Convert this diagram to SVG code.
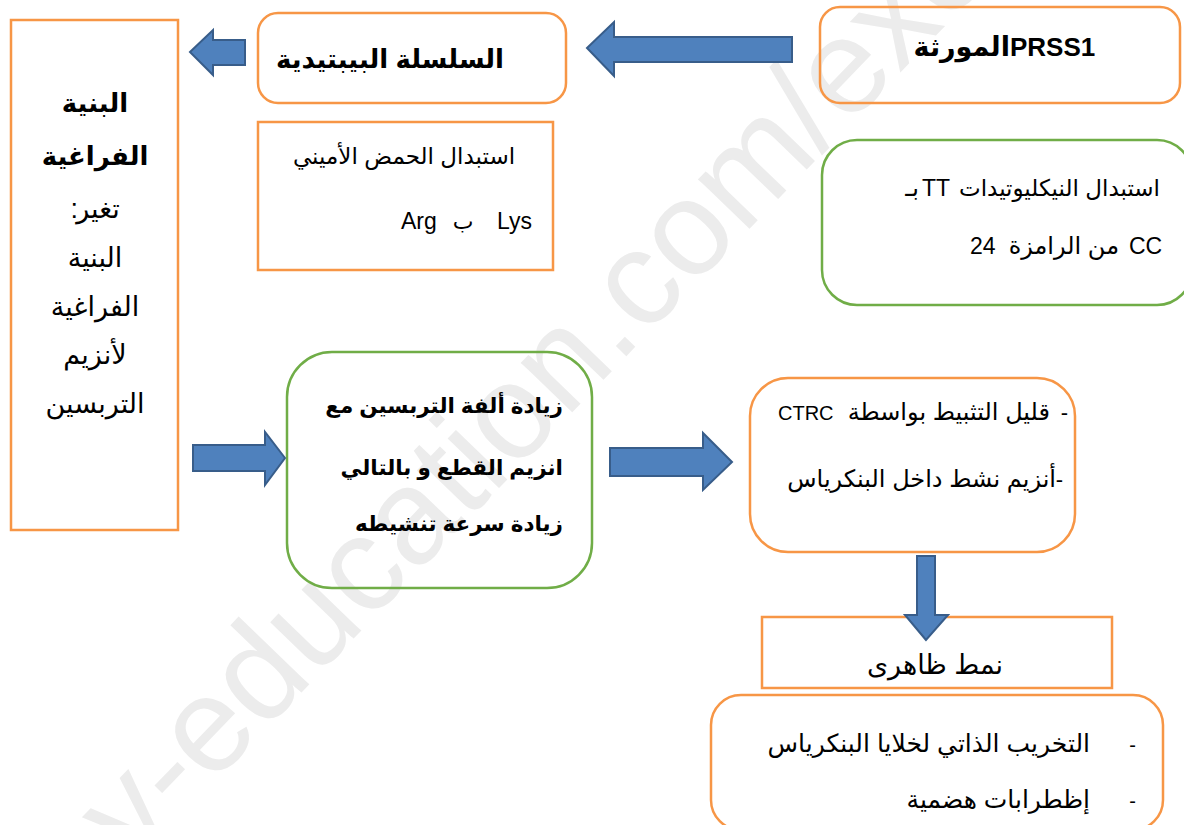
<svg xmlns="http://www.w3.org/2000/svg" width="1184" height="825" viewBox="0 0 1184 825">
<style>
.o{fill:none;stroke:#f79646;stroke-width:2.5}
.g{fill:none;stroke:#70ad47;stroke-width:2.5}
.ar{fill:#4f81bd;stroke:#385d8a;stroke-width:2;stroke-linejoin:miter}
text{font-family:"Liberation Sans","DejaVu Sans",sans-serif;fill:#000}
.b{font-weight:bold}
.wm{font-family:"Liberation Sans",Arial,sans-serif;fill:#ececec;font-size:135px}
</style>
<rect width="1184" height="825" fill="#fff"/>
<text class="wm" transform="translate(133,867) rotate(-46)">y-education.com/exe</text>

<g id="structure">
<rect class="o" x="11" y="20" width="167" height="510"/>
<text class="b" x="95" y="112" font-size="26" text-anchor="middle">البنية</text>
<text class="b" x="95" y="165" font-size="26" text-anchor="middle">الفراغية</text>
<text x="98" y="218" font-size="27" text-anchor="middle">تغير</text>
<text x="78" y="218" font-size="27" text-anchor="end">:</text>
<text x="95" y="267" font-size="27" text-anchor="middle">البنية</text>
<text x="95" y="316" font-size="27" text-anchor="middle">الفراغية</text>
<text x="95" y="364" font-size="27" text-anchor="middle">لأنزيم</text>
<text x="95" y="413" font-size="27" text-anchor="middle">التربسين</text>
</g>

<g id="peptide">
<rect class="o" x="258" y="13" width="308" height="90" rx="20"/>
<text class="b" x="390" y="68" font-size="26" text-anchor="middle">السلسلة البيبتيدية</text>
</g>

<g id="gene">
<rect class="o" x="820" y="7" width="360" height="96" rx="20"/>
<text class="b" x="1010" y="56" font-size="27" text-anchor="end">المورثة</text>
<text class="b" x="1010" y="56" font-size="26">PRSS1</text>
</g>

<g id="aa-sub">
<rect class="o" x="258" y="122" width="295" height="148"/>
<text x="404" y="164" font-size="23" text-anchor="middle">استبدال الحمض الأميني</text>
<text x="401" y="229" font-size="23">Arg</text>
<text x="463" y="229" font-size="22" text-anchor="middle">ب</text>
<text x="497" y="229" font-size="23">Lys</text>
</g>

<g id="nt-sub">
<rect class="g" x="822" y="140" width="370" height="165" rx="35"/>
<text x="1160" y="196" font-size="23" text-anchor="end">استبدال النيكليوتيدات</text>
<text x="922" y="196" font-size="23">TT</text>
<text x="919" y="196" font-size="24" text-anchor="end">بـ</text>
<text x="1129" y="254" font-size="23">CC</text>
<text x="1119" y="254" font-size="24" text-anchor="end">من الرامزة</text>
<text x="970" y="254" font-size="23">24</text>
</g>

<g id="affinity">
<rect class="g" x="287" y="352" width="305" height="236" rx="45"/>
<text class="b" x="563" y="413" font-size="21.5" text-anchor="end">زيادة ألفة التربسين مع</text>
<text class="b" x="563" y="475" font-size="21.5" text-anchor="end">انزيم القطع و بالتالي</text>
<text class="b" x="563" y="531" font-size="21.5" text-anchor="end">زيادة سرعة تنشيطه</text>
</g>

<g id="ctrc">
<rect class="o" x="750" y="378" width="325" height="174" rx="38"/>
<text x="1068" y="420" font-size="22" text-anchor="end">-</text>
<text x="1050" y="420" font-size="24" text-anchor="end">قليل التثبيط بواسطة</text>
<text x="778" y="420" font-size="20">CTRC</text>
<text x="1063" y="487" font-size="22" text-anchor="end">-</text>
<text x="1056" y="487" font-size="24" text-anchor="end">أنزيم نشط داخل البنكرياس</text>
</g>

<g id="phenotype">
<rect class="o" x="762" y="617" width="350" height="71"/>
<text x="935" y="674" font-size="27" text-anchor="middle">نمط ظاهرى</text>
</g>

<g id="effects">
<rect class="o" x="711" y="695" width="452" height="135" rx="30"/>
<text x="1136" y="752" font-size="20" text-anchor="end">-</text>
<text x="1090" y="752" font-size="25" text-anchor="end">التخريب الذاتي لخلايا البنكرياس</text>
<text x="1136" y="808" font-size="20" text-anchor="end">-</text>
<text x="1090" y="808" font-size="25" text-anchor="end">إظطرابات هضمية</text>
</g>

<g id="connectors">
<polygon class="ar" points="190,52 213,30 213,40 245,40 245,65 213,65 213,75"/>
<polygon class="ar" points="587,48 614,22 614,37 792,37 792,62 614,62 614,76"/>
<polygon class="ar" points="285,458 265,432 265,445 193,445 193,471 265,471 265,485"/>
<polygon class="ar" points="732,462 703,433 703,448 610,448 610,476 703,476 703,490"/>
<polygon class="ar" points="926,640 905,615 917,615 917,556 935,556 935,615 948,615"/>
</g>
</svg>
